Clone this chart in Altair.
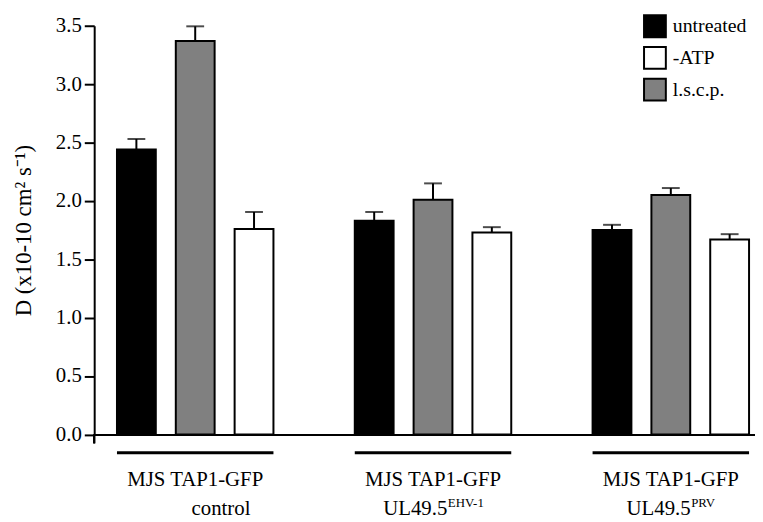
import altair as alt
import pandas as pd

# ---- data ----
groups = ["control", "EHV-1", "PRV"]
bar_order = ["untreated", "l.s.c.p.", "-ATP"]
legend_order = ["untreated", "-ATP", "l.s.c.p."]

untreated = [2.44, 1.83, 1.75]
lscp = [3.37, 2.01, 2.05]
no_atp = [1.76, 1.73, 1.67]

err_untreated = [0.09, 0.075, 0.045]
err_lscp = [0.125, 0.14, 0.06]
err_no_atp = [0.145, 0.045, 0.045]

label_line1 = ["MJS TAP1-GFP", "MJS TAP1-GFP", "MJS TAP1-GFP"]
label_line2 = ["control", "UL49.5", "UL49.5"]
label_sup = ["", "EHV-1", "PRV"]

y_ticks = [0.0, 0.5, 1.0, 1.5, 2.0, 2.5, 3.0, 3.5]

# ---- tables ----
rows = []
for i, g in enumerate(groups):
    for t, vals, errs in [("untreated", untreated, err_untreated),
                          ("l.s.c.p.", lscp, err_lscp),
                          ("-ATP", no_atp, err_no_atp)]:
        rows.append({"group": g, "treatment": t, "value": vals[i],
                     "top": vals[i] + errs[i]})
df = pd.DataFrame(rows)

lab = pd.DataFrame({"group": groups, "line1": label_line1,
                    "line2": label_line2, "sup": label_sup})

W = 667
H = 412.5
FONT = "Times New Roman, Liberation Serif, serif"

xscale = alt.Scale(domain=groups, paddingInner=0.342, paddingOuter=0.0604, align=0.793)
xoff = alt.XOffset("treatment:N", scale=alt.Scale(domain=bar_order, paddingInner=0.34, paddingOuter=0))

X = alt.X("group:N", scale=xscale,
          axis=alt.Axis(title=None, labels=False, ticks=False, domain=True,
                        domainColor="black", domainWidth=2, grid=False))

yscale = alt.Scale(domain=[0, 3.5], nice=False, zero=True)

base = alt.Chart(df)

bars = base.mark_bar(stroke="black", strokeWidth=2).encode(
    x=X,
    xOffset=xoff,
    y=alt.Y("value:Q", scale=yscale,
            axis=alt.Axis(values=y_ticks, format=".1f", tickSize=10, tickWidth=2,
                          tickColor="black", domainColor="black", domainWidth=2,
                          labelFont=FONT, labelFontSize=21, labelColor="black",
                          labelPadding=3, grid=False,
                          title="D (x10-10 cm² s⁻¹)", titleFont=FONT,
                          titleFontSize=23, titleFontWeight="normal",
                          titleColor="black", titlePadding=20)),
    color=alt.Color("treatment:N",
                    scale=alt.Scale(domain=legend_order,
                                    range=["black", "white", "#808080"]),
                    legend=alt.Legend(title=None, orient="none", legendX=554,
                                      legendY=-11.5, symbolType="square",
                                      symbolSize=484, symbolStrokeColor="black",
                                      symbolStrokeWidth=2, labelFont=FONT,
                                      labelFontSize=20, labelColor="black",
                                      labelOffset=6, rowPadding=2, padding=0)),
)

err_line = base.mark_rule(color="black", strokeWidth=2).encode(
    x=X, xOffset=xoff,
    y=alt.Y("value:Q", scale=yscale), y2="top:Q")

err_cap = base.mark_tick(color="black", thickness=2, size=18, orient="horizontal").encode(
    x=X, xOffset=xoff,
    y=alt.Y("top:Q", scale=yscale))

lbase = alt.Chart(lab)

underline = lbase.mark_bar(color="black").encode(
    x=X, y=alt.value(H + 17), y2=alt.value(H + 20))

txt1 = lbase.mark_text(font=FONT, fontSize=21, baseline="alphabetic", color="black").encode(
    x=X, y=alt.value(H + 52), text="line1:N")

ctrl = lbase.transform_filter(alt.datum.group == "control").mark_text(
    font=FONT, fontSize=21, baseline="alphabetic", color="black", dx=26).encode(
    x=X, y=alt.value(H + 81), text="line2:N")

ehv_base = lbase.transform_filter(alt.datum.group == "EHV-1").mark_text(
    font=FONT, fontSize=21, baseline="alphabetic", color="black", align="right", dx=14.5).encode(
    x=X, y=alt.value(H + 81), text="line2:N")
ehv_sup = lbase.transform_filter(alt.datum.group == "EHV-1").mark_text(
    font=FONT, fontSize=13, baseline="alphabetic", color="black", align="left", dx=15).encode(
    x=X, y=alt.value(H + 73.5), text="sup:N")

prv_base = lbase.transform_filter(alt.datum.group == "PRV").mark_text(
    font=FONT, fontSize=21, baseline="alphabetic", color="black", align="right", dx=20).encode(
    x=X, y=alt.value(H + 81), text="line2:N")
prv_sup = lbase.transform_filter(alt.datum.group == "PRV").mark_text(
    font=FONT, fontSize=13, baseline="alphabetic", color="black", align="left", dx=20.5).encode(
    x=X, y=alt.value(H + 73.5), text="sup:N")

axis_ext = alt.Chart(lab).mark_rule(color="black", strokeWidth=2).encode(
    x=alt.value(0), y=alt.value(H), y2=alt.value(H + 9))

chart = alt.layer(bars, err_line, err_cap, underline, txt1, ctrl,
                  ehv_base, ehv_sup, prv_base, prv_sup, axis_ext).properties(
    width=W, height=H,
    autosize=alt.AutoSizeParams(type="none"),
    padding={"left": 87, "top": 15.5, "right": 0, "bottom": 86},
    background="white",
).configure_view(stroke=None)

chart.save("out.html", embed_options={"renderer": "svg", "actions": False})
